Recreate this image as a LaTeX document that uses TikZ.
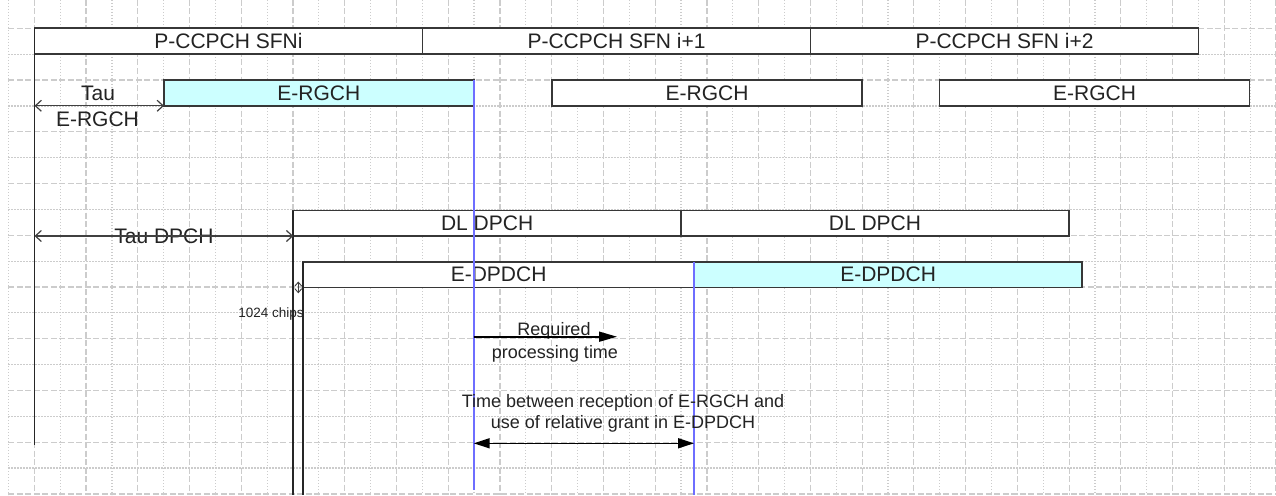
\documentclass[tikz,border=0pt]{standalone}
\usepackage{fontspec}
\setmainfont{Liberation Sans}
\usetikzlibrary{arrows.meta}
\definecolor{gridgray}{RGB}{204,204,204}
\definecolor{boxline}{RGB}{55,55,55}
\definecolor{cyanfill}{RGB}{204,255,255}
\definecolor{blueline}{RGB}{110,110,255}
\definecolor{txt}{RGB}{35,35,35}
\begin{document}
\begin{tikzpicture}[x=1pt,y=-1pt,
  gridl/.style={draw=gridgray, line width=1.2pt},
  dashgrid/.style={dash pattern=on 6pt off 2.5pt},
  dotgrid/.style={dash pattern=on 1.4pt off 1.6pt},
  chan/.style={draw=boxline, line width=1.8pt, fill=white, inner sep=0pt, outer sep=0pt,
    anchor=north west, minimum height=25.5pt, font=\fontsize{21}{24}\selectfont, text=txt},
  hl/.style={fill=cyanfill},
  biglbl/.style={inner sep=0pt, anchor=base, text=txt, font=\fontsize{21}{24}\selectfont},
  lbl/.style={inner sep=0pt, anchor=base, text=txt, font=\fontsize{18}{21}\selectfont},
  smalllbl/.style={inner sep=0pt, anchor=base, text=txt, font=\fontsize{13.5}{16}\selectfont},
  blk/.style={draw=black!85, line width=1.7pt},
  bluel/.style={draw=blueline, line width=2.4pt},
  tauarr/.style={draw=black!75, line width=1.2pt,
    {Straight Barb[length=6pt,width=11pt]}-{Straight Barb[length=6pt,width=11pt]}},
  chiparr/.style={draw=black!75, line width=0.9pt,
    {Straight Barb[length=4pt,width=7pt]}-{Straight Barb[length=4pt,width=7pt]}},
  solarr/.style={draw=black, line width=1.6pt, -{Triangle[length=18pt,width=10pt]}},
  dblarr/.style={draw=black, line width=1.6pt, {Triangle[length=16pt,width=10pt]}-{Triangle[length=16pt,width=10pt]}}
]
\useasboundingbox (0,0) rectangle (1276,495);
\fill[white] (0,0) rectangle (1276,495);
% grid
\foreach \n in {-1,0,...,48} {
  \pgfmathsetmacro\gx{34.3+25.87*\n}
  \ifodd\n
    \draw[gridl,dotgrid] (\gx,0) -- (\gx,495);
  \else
    \draw[gridl,dashgrid] (\gx,0) -- (\gx,495);
  \fi
}
\foreach \m in {0,...,18} {
  \pgfmathsetmacro\gy{28.3+25.87*\m}
  \ifodd\m
    \draw[gridl,dotgrid] (8.4,\gy) -- (1276,\gy);
  \else
    \draw[gridl,dashgrid] (8.4,\gy) -- (1276,\gy);
  \fi
}
% P-CCPCH frames
\node[chan, minimum width=388pt] (p1) at (34.5,28.3) {P-CCPCH SFNi};
\node[chan, minimum width=388pt] (p2) at (p1.north east) {P-CCPCH SFN i+1};
\node[chan, minimum width=388pt] (p3) at (p2.north east) {P-CCPCH SFN i+2};
% E-RGCH
\node[chan, hl, minimum width=309.7pt] (e1) at (164,80.3) {E-RGCH};
\node[chan, minimum width=310pt] (e2) at (552,80.3) {E-RGCH};
\node[chan, minimum width=310pt] (e3) at (939.5,80.3) {E-RGCH};
% DL DPCH
\node[chan, minimum width=387.7pt] (dl1) at (293.3,210.5) {DL DPCH};
\node[chan, minimum width=388pt] (dl2) at (dl1.north east) {DL DPCH};
% E-DPDCH
\node[chan, minimum width=390.7pt] (ed1) at (303.3,262) {E-DPDCH};
\node[chan, hl, minimum width=388.3pt] (ed2) at (ed1.north east) {E-DPDCH};
% helper coordinates
\coordinate (yb) at (0,495);
\coordinate (ya) at (0,490);
\coordinate (yl) at (0,444.5);
\coordinate (yreq) at (0,336.7);
\coordinate (ytb) at (0,443.3);
\coordinate (req1) at (617,336.7);
\coordinate (ch0) at (298.3,281.5);
\coordinate (ch1) at (298.3,293.3);
% vertical lines
\draw[blk] (p1.north west) -- (p1.north west |- yl);
\draw[blk] (dl1.north west) -- (dl1.north west |- yb);
\draw[blk] (ed1.north west) -- (ed1.north west |- yb);
\draw[bluel] (e1.north east) -- (e1.north east |- ya);
\draw[bluel] (ed2.north west) -- (ed2.north west |- yb);
% labels
\node[biglbl] (tau1) at (98,100.5) {Tau};
\node[biglbl] (tau2) at (97.5,126) {E-RGCH};
\node[biglbl] (taud) at (164,243.3) {Tau DPCH};
\node[smalllbl] (chips) at (271,317.5) {1024 chips};
\node[lbl] (rq1t) at (554,335) {Required};
\node[lbl] (rq2t) at (555,358) {processing time};
\node[lbl] (tb1) at (623,407) {Time between reception of E-RGCH and};
\node[lbl] (tb2) at (623,428.5) {use of relative grant in E-DPDCH};
% arrows
\draw[tauarr] (p1.north west |- e1.south) -- (e1.south west);
\draw[tauarr] (p1.north west |- dl1.south) -- (dl1.south west);
\draw[chiparr] (ch0) -- (ch1);
\draw[solarr] (e1.north east |- yreq) -- (req1);
\draw[dblarr] (e1.north east |- ytb) -- (ed2.north west |- ytb);
\end{tikzpicture}
\end{document}
